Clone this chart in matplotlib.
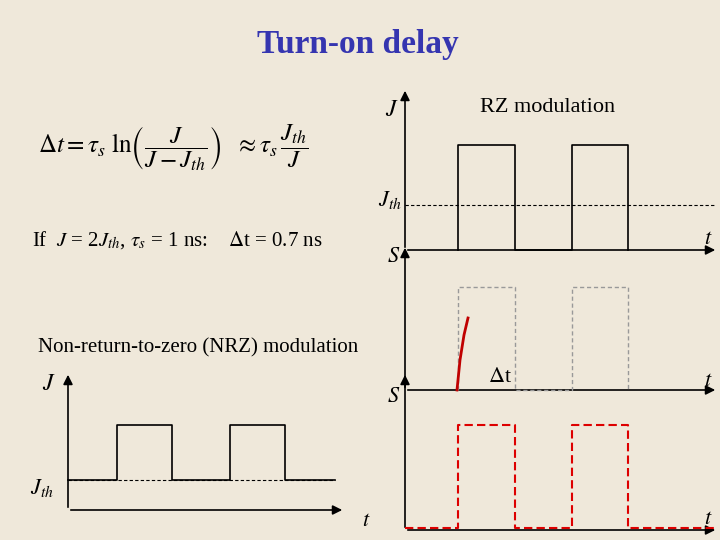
import matplotlib.pyplot as plt
from matplotlib.patches import FancyArrowPatch

plt.rcParams['font.family'] = ['Liberation Serif', 'DejaVu Serif']
plt.rcParams['mathtext.fontset'] = 'stix'

# pulse edges (pixel x) and levels (pixel y) of the waveforms
rz_edges = [405, 458, 515, 572, 628, 715]
rz_j_low, rz_j_high = 250, 145
rz_jth = 205
rz_s_low, rz_s_high = 390, 287
nrz_edges = [68, 117, 172, 230, 285, 335]
nrz_low, nrz_high = 480, 425
bot_edges = [405, 458, 515, 572, 628, 715]
bot_low, bot_high = 528, 425


def pulses(edges, lo, hi):
    xs, ys = [edges[0]], [lo]
    for i in range(1, len(edges) - 1):
        lvl_before = lo if i % 2 == 1 else hi
        lvl_after = hi if i % 2 == 1 else lo
        xs += [edges[i], edges[i]]
        ys += [lvl_before, lvl_after]
    xs.append(edges[-1])
    ys.append(lo)
    return xs, ys


fig = plt.figure(figsize=(7.2, 5.4), dpi=100)
fig.patch.set_facecolor('#efe8da')
ax = fig.add_axes([0, 0, 1, 1])
ax.set_xlim(0, 720)
ax.set_ylim(540, 0)
ax.axis('off')


def arrow(x0, y0, x1, y1):
    ax.add_patch(FancyArrowPatch((x0, y0), (x1, y1), arrowstyle='-|>',
                                 mutation_scale=14, color='black', lw=1.2))


ax.text(358, 45, 'Turn-on delay', color='#3535b0', fontsize=24,
        fontweight='bold', ha='center', va='center')
ax.text(38, 148, r'$\Delta t = \tau_s\ \ln\!\left(\dfrac{J}{J-J_{th}}\right)\ \ \approx \tau_s\,\dfrac{J_{th}}{J}$',
        fontsize=18, va='center')
ax.text(32, 240, r'If  $J$ = 2$J_{th}$, $\tau_s$ = 1 ns:    $\Delta$t = 0.7 ns',
        fontsize=15, va='center')

# RZ: J
arrow(405, rz_j_low, 405, 88)
arrow(405, rz_j_low, 718, rz_j_low)
x, y = pulses(rz_edges, rz_j_low, rz_j_high)
ax.plot(x[1:-1], y[1:-1], color='black', lw=1.2)
ax.plot([405, 715], [rz_jth, rz_jth], color='black', lw=0.8, ls=(0, (3, 2)))
ax.text(385, 110, '$J$', fontsize=17, va='center')
ax.text(548, 107, 'RZ modulation', fontsize=16, ha='center', va='center')
ax.text(378, 200, '$J_{th}$', fontsize=16, va='center')
ax.text(704, 240, '$t$', fontsize=16, va='center')

# RZ: S
arrow(405, rz_s_low, 405, 245)
arrow(405, rz_s_low, 718, rz_s_low)
x, y = pulses(rz_edges, rz_s_low, rz_s_high)
ax.plot(x[1:-1], y[1:-1], color='#999999', lw=1, ls=(0, (3, 2)))
ax.plot([457, 460, 464, 468], [390, 360, 335, 318], color='#c00000', lw=2)
ax.text(387, 258, '$S$', fontsize=16, va='center')
ax.text(704, 381, '$t$', fontsize=16, va='center')
ax.text(488, 378, r'$\Delta$t', fontsize=16, va='center')

# NRZ: J
ax.text(198, 348, 'Non-return-to-zero (NRZ) modulation', fontsize=15,
        ha='center', va='center')
arrow(68, 510, 68, 372)
arrow(68, 510, 345, 510)
x, y = pulses(nrz_edges, nrz_low, nrz_high)
ax.plot(x, y, color='black', lw=1.2)
ax.plot([68, 335], [nrz_low, nrz_low], color='black', lw=0.8, ls=(0, (3, 2)))
ax.text(42, 385, '$J$', fontsize=17, va='center')
ax.text(30, 488, '$J_{th}$', fontsize=16, va='center')
ax.text(362, 522, '$t$', fontsize=16, va='center')

# NRZ: S
arrow(405, 530, 405, 372)
arrow(405, 530, 718, 530)
x, y = pulses(bot_edges, bot_low, bot_high)
ax.plot(x, y, color='#dd0000', lw=1.5, ls=(0, (4, 2)))
ax.text(387, 398, '$S$', fontsize=16, va='center')
ax.text(704, 520, '$t$', fontsize=16, va='center')

fig.savefig('out.png', facecolor=fig.get_facecolor())
